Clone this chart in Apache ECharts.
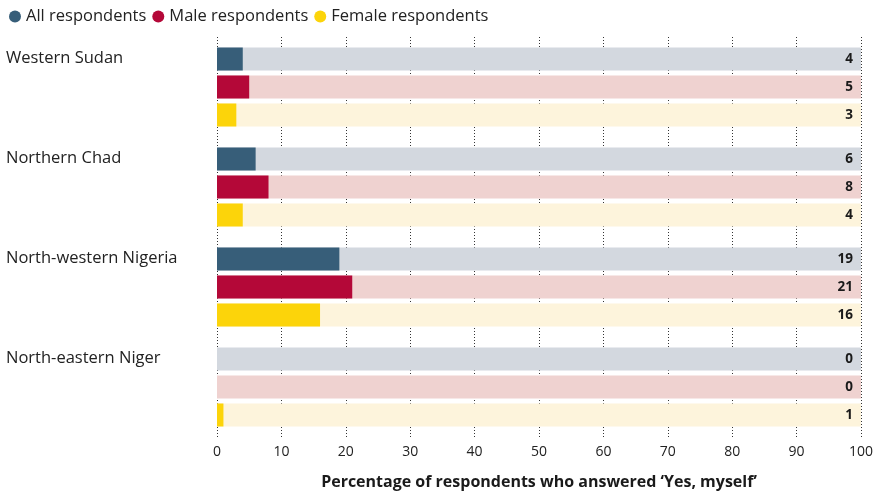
<!DOCTYPE html>
<html><head><meta charset="utf-8">
<script src="https://cdn.jsdelivr.net/npm/echarts@6/dist/echarts.min.js"></script>
<style>html,body{margin:0;padding:0;background:#fff}#c{width:882px;height:492px}</style>
</head><body><div id="c"></div>
<script>
const regions = ['Western Sudan', 'Northern Chad', 'North-western Nigeria', 'North-eastern Niger'];
const allResp = [4, 6, 19, 0];
const maleResp = [5, 8, 21, 0];
const femaleResp = [3, 4, 16, 1];
const xTicks = [0, 10, 20, 30, 40, 50, 60, 70, 80, 90, 100];

const FONT = '"Open Sans", "Noto Sans", sans-serif';
const chart = echarts.init(document.getElementById('c'), null, {renderer: 'canvas'});

function mk(name, data, color, bg) {
  return {
    name, type: 'bar', data,
    barWidth: 23, barGap: '21.7%',
    itemStyle: {color},
    showBackground: true,
    backgroundStyle: {color: bg, opacity: 1},
    label: {
      show: true, position: [636, '50%'], align: 'right', verticalAlign: 'middle',
      color: '#1a1a1a', fontWeight: 'bold', fontSize: 13.5, fontFamily: FONT
    },
    emphasis: {disabled: true},
    z: 3
  };
}

chart.setOption({
  animation: false,
  legend: {
    left: 4, top: 3, itemGap: 6, itemWidth: 12, itemHeight: 12, icon: 'circle',
    textStyle: {fontSize: 16.5, color: '#222', fontFamily: FONT, padding: [0, 0, 0, 0]},
    data: ['All respondents', 'Male respondents', 'Female respondents']
  },
  grid: {left: 217, right: 21, top: 37, height: 400, containLabel: false, outerBoundsMode: 'none'},
  xAxis: {
    type: 'value', min: 0, max: 100, interval: 10,
    axisLine: {show: false}, axisTick: {show: false},
    splitLine: {show: true, lineStyle: {color: '#333', type: [1, 2], width: 1}},
    axisLabel: {color: '#222', fontSize: 14, fontFamily: FONT, margin: 8,
      formatter: v => xTicks.includes(v) ? String(v) : ''},
    name: 'Percentage of respondents who answered ‘Yes, myself’',
    nameLocation: 'middle', nameGap: 37,
    nameTextStyle: {fontWeight: 'bold', fontSize: 16, color: '#1a1a1a', fontFamily: FONT}
  },
  yAxis: {
    type: 'category', data: regions, inverse: true,
    axisLine: {show: false}, axisTick: {show: false},
    axisLabel: {align: 'left', margin: 211, verticalAlign: 'middle',
      formatter: v => '{t|' + v + '}\n{s|}',
      rich: {
        t: {fontSize: 16.5, color: '#222', fontFamily: FONT, lineHeight: 20, align: 'left'},
        s: {height: 58, lineHeight: 58}
      }
    }
  },
  series: [
    mk('All respondents', allResp, '#375e79', '#d3d8df'),
    mk('Male respondents', maleResp, '#b40838', '#efd2d0'),
    mk('Female respondents', femaleResp, '#fcd40a', '#fdf4dc')
  ]
});
</script></body></html>
